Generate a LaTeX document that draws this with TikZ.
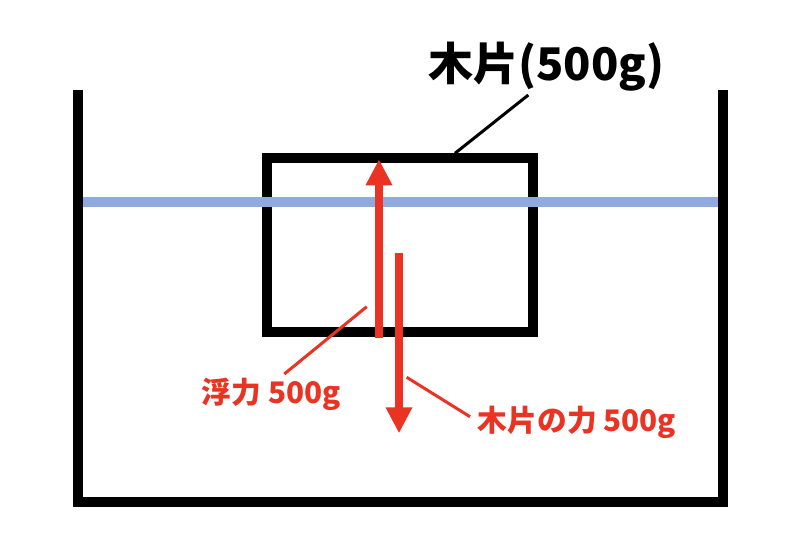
\documentclass[tikz,border=0pt]{standalone}
\usepackage{fontspec}
\newfontfamily\cjk{Noto Sans CJK JP}
\usetikzlibrary{arrows.meta}
\definecolor{fred}{RGB}{234,51,35}
\definecolor{water}{RGB}{143,170,220}
\tikzset{
  wall/.style={line width=10pt, line join=miter, black},
  waterline/.style={line width=10pt, water},
  force/.style={line width=8.3pt, fred, -{Triangle[length=26pt,width=25pt]}},
  leadred/.style={line width=3pt, fred},
  leadblack/.style={line width=3pt, black},
  redlabel/.style={inner sep=0pt, anchor=west, text=fred, font=\cjk\bfseries\fontsize{29.7}{32}\selectfont},
  titlelabel/.style={inner sep=0pt, anchor=west, text=black, font=\cjk\bfseries\fontsize{45}{48}\selectfont},
}
\begin{document}
\begin{tikzpicture}[x=1pt,y=-1pt]
\useasboundingbox (0,0) rectangle (800,533);
% container
\coordinate (tl) at (78,90);
\coordinate (bl) at (78,501.7);
\coordinate (br) at (723,501.7);
\coordinate (tr) at (723,90);
\draw[wall] (tl) -- (bl) -- (br) -- (tr);
% wooden block
\coordinate (b1) at (266.7,158.3);
\coordinate (b2) at (533,332);
\draw[wall] (b1) rectangle (b2);
% water surface
\coordinate (w1) at (83,201.7);
\coordinate (w2) at (718,201.7);
\draw[waterline] (w1) -- (w2);
% forces
\coordinate (up1) at (379,338);
\coordinate (up2) at (379,159.3);
\draw[force] (up1) -- (up2);
\coordinate (dn1) at (399,253.3);
\coordinate (dn2) at (399,433.3);
\draw[force] (dn1) -- (dn2);
% labels
\node[titlelabel] (title) at (428,66.5) {木片(500g)};
\node[redlabel] (buoy) at (201.7,394) {浮力 500g};
\node[redlabel] (weight) at (477.7,422) {木片の力 500g};
% leader lines
\coordinate (t1) at (528.3,95);
\coordinate (t2) at (455,153.3);
\draw[leadblack] (t1) -- (t2);
\coordinate (f1) at (284.3,374);
\coordinate (f2) at (366.7,306.7);
\draw[leadred] (f1) -- (f2);
\coordinate (g1) at (406.7,377.3);
\coordinate (g2) at (470,416.7);
\draw[leadred] (g1) -- (g2);
\end{tikzpicture}
\end{document}
